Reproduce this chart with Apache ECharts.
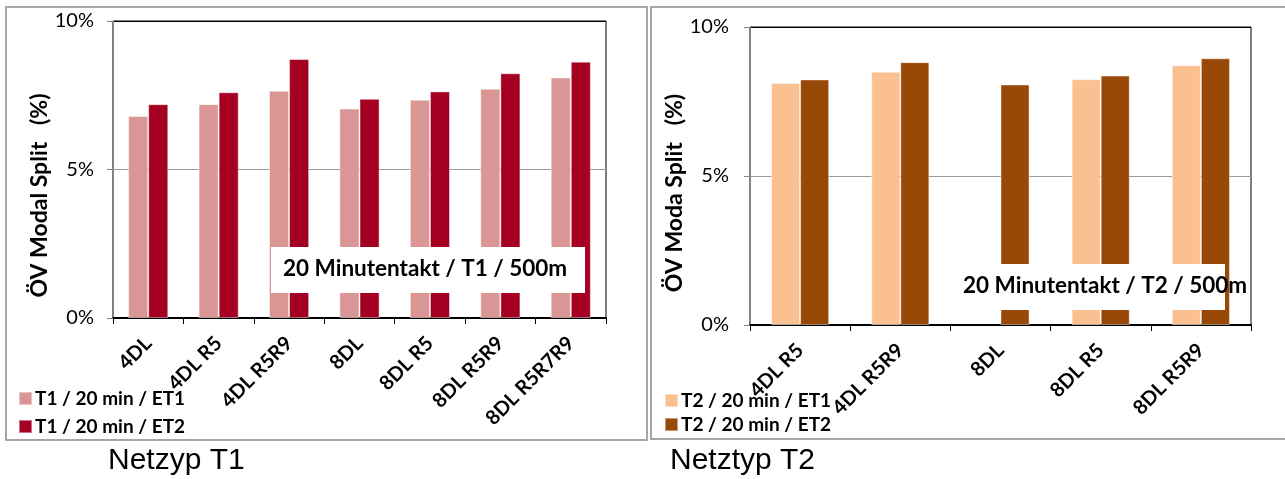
<!DOCTYPE html>
<html>
<head>
<meta charset="utf-8">
<script src="https://cdn.jsdelivr.net/npm/echarts@6/dist/echarts.min.js"></script>
<style>
  html, body { margin: 0; padding: 0; background: #fff; }
  #chart { width: 1285px; height: 479px; }
</style>
</head>
<body>
<div id="chart"></div>
<script>
// Network type T1: variants and ÖV modal split (%) per evaluation time
const catsT1 = ['4DL', '4DL R5', '4DL R5R9', '8DL', '8DL R5', '8DL R5R9', '8DL R5R7R9'];
const t1Et1 = [6.8, 7.2, 7.65, 7.05, 7.35, 7.72, 8.1];
const t1Et2 = [7.2, 7.6, 8.72, 7.38, 7.63, 8.24, 8.63];

// Network type T2 (no ET1 value for 8DL)
const catsT2 = ['4DL R5', '4DL R5R9', '8DL', '8DL R5', '8DL R5R9'];
const t2Et1 = [8.12, 8.5, null, 8.25, 8.72];
const t2Et2 = [8.24, 8.82, 8.07, 8.37, 8.95];

const yTicks = [0, 5, 10];
const seriesNames = ['T1 / 20 min / ET1', 'T1 / 20 min / ET2', 'T2 / 20 min / ET1', 'T2 / 20 min / ET2'];
const noteT1 = '20 Minutentakt / T1 / 500m';
const noteT2 = '20 Minutentakt / T2 / 500m';
const titleT1 = 'Netzyp T1';
const titleT2 = 'Netztyp T2';
const yNameT1 = 'ÖV Modal Split   (%)';
const yNameT2 = 'ÖV Moda Split   (%)';

const CAL = 'Lato, "Noto Sans", sans-serif';

const chart = echarts.init(document.getElementById('chart'), null, { renderer: 'canvas' });

function yAxis(gridIndex, name, labelMargin, nameGap, shift) {
  return {
    gridIndex: gridIndex,
    type: 'value',
    min: yTicks[0],
    max: yTicks[yTicks.length - 1],
    interval: yTicks[1] - yTicks[0],
    name: name,
    nameLocation: 'middle',
    nameRotate: 90,
    nameGap: nameGap,
    nameTextStyle: { fontFamily: CAL, fontWeight: 'bold', fontSize: 23, color: '#000', padding: [0, shift, 0, 0] },
    axisLine: { show: true, lineStyle: { color: '#868686', width: 1 } },
    axisTick: { show: true, length: 6, lineStyle: { color: '#868686' } },
    axisLabel: { formatter: '{value}%', fontFamily: CAL, fontSize: 20, color: '#000', margin: labelMargin },
    splitLine: { show: true, lineStyle: { color: ['#9a9a9a', '#9a9a9a', '#000'], width: 1 } }
  };
}

function xAxis(gridIndex, cats) {
  return {
    gridIndex: gridIndex,
    type: 'category',
    data: cats,
    axisLine: { show: true, lineStyle: { color: '#000', width: 2 } },
    axisTick: { show: true, length: 6, lineStyle: { color: '#000', width: 1 } },
    axisLabel: { interval: 0, rotate: 45, fontFamily: CAL, fontWeight: 'bold', fontSize: 20, color: '#000', margin: 22 }
  };
}

function bars(name, data, color, axisIndex, catGap) {
  return {
    name: name,
    type: 'bar',
    xAxisIndex: axisIndex,
    yAxisIndex: axisIndex,
    data: data,
    barGap: '0%',
    barCategoryGap: catGap,
    itemStyle: { color: color, borderColor: 'rgba(255,255,255,0.45)', borderWidth: 1 },
    emphasis: { disabled: true },
    animation: false
  };
}

function legend(names, left, top, gap) {
  return {
    data: names,
    orient: 'vertical',
    left: left,
    top: top,
    padding: 0,
    itemWidth: 13,
    itemHeight: 13,
    itemGap: gap,
    icon: 'rect',
    selectedMode: false,
    textStyle: { fontFamily: CAL, fontWeight: 'bold', fontSize: 19, color: '#000', padding: [0, 0, 0, -2] }
  };
}

chart.setOption({
  animation: false,
  backgroundColor: '#fff',
  grid: [
    { left: 113, top: 21, width: 493, height: 297, show: true, borderColor: '#000', borderWidth: 1 },
    { left: 750, top: 27, width: 501, height: 298, show: true, borderColor: '#000', borderWidth: 1 }
  ],
  xAxis: [xAxis(0, catsT1), xAxis(1, catsT2)],
  yAxis: [yAxis(0, yNameT1, 19, 60, 52), yAxis(1, yNameT2, 21, 50, 34)],
  legend: [
    legend([seriesNames[0], seriesNames[1]], 18, 389, 9),
    legend([seriesNames[2], seriesNames[3]], 664, 391, 5)
  ],
  series: [
    bars(seriesNames[0], t1Et1, '#D99694', 0, '43%'),
    bars(seriesNames[1], t1Et2, '#A50021', 0, '43%'),
    bars(seriesNames[2], t2Et1, '#FAC090', 1, '42%'),
    bars(seriesNames[3], t2Et2, '#984807', 1, '42%')
  ],
  graphic: [
    // panel frames
    { type: 'rect', z: -10, shape: { x: 6, y: 7, width: 641, height: 433 }, style: { fill: 'none', stroke: '#a6a6a6', lineWidth: 2 } },
    { type: 'rect', z: -10, shape: { x: 651, y: 7, width: 660, height: 432 }, style: { fill: 'none', stroke: '#a6a6a6', lineWidth: 2 } },
    // note boxes over the bars
    { type: 'rect', z: 100, shape: { x: 271, y: 247, width: 314, height: 46 }, style: { fill: '#fff' } },
    { type: 'text', z: 101, left: 283, top: 257, style: { text: noteT1, font: 'bold 22.5px ' + CAL, fill: '#000' } },
    { type: 'rect', z: 100, shape: { x: 955, y: 264, width: 270, height: 46 }, style: { fill: '#fff' } },
    { type: 'text', z: 101, left: 963, top: 274, style: { text: noteT2, font: 'bold 22.5px ' + CAL, fill: '#000' } },
    // panel titles
    { type: 'text', left: 108, top: 446, style: { text: titleT1, font: '30px "Liberation Sans", Arial, sans-serif', fill: '#000' } },
    { type: 'text', left: 670, top: 446, style: { text: titleT2, font: '30px "Liberation Sans", Arial, sans-serif', fill: '#000' } }
  ]
});
</script>
</body>
</html>
